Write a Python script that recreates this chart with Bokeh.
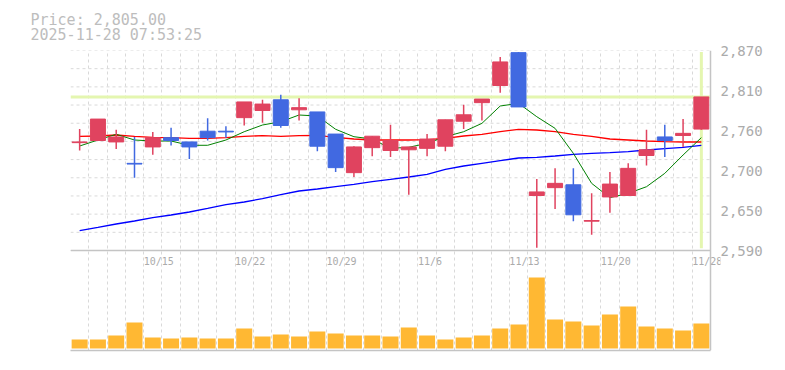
from bokeh.plotting import figure
from bokeh.models import ColumnDataSource, FixedTicker, Range1d, Span, Label, Title
from bokeh.embed import file_html
from bokeh.resources import INLINE

# ---- data ----
dates = ["10/8", "10/9", "10/10", "10/14", "10/15", "10/16", "10/17", "10/20", "10/21",
         "10/22", "10/23", "10/24", "10/27", "10/28", "10/29", "10/30", "10/31", "11/4",
         "11/5", "11/6", "11/7", "11/10", "11/11", "11/12", "11/13", "11/14", "11/17",
         "11/18", "11/19", "11/20", "11/21", "11/25", "11/26", "11/27", "11/28"]
opens = [2741, 2744, 2742, 2712, 2735, 2748, 2742, 2757, 2757, 2776, 2786, 2801, 2787,
         2784, 2753, 2699, 2734, 2730, 2731, 2733, 2736, 2771, 2797, 2821, 2867, 2667,
         2678, 2682, 2631, 2665, 2667, 2723, 2749, 2751, 2760]
highs = [2760, 2774, 2759, 2749, 2756, 2762, 2742, 2775, 2764, 2798, 2801, 2808, 2803,
         2784, 2753, 2736, 2750, 2766, 2735, 2753, 2773, 2794, 2802, 2861, 2868, 2690,
         2705, 2705, 2670, 2700, 2712, 2759, 2766, 2774, 2805]
lows = [2730, 2744, 2732, 2692, 2724, 2737, 2718, 2744, 2748, 2765, 2769, 2762, 2772,
        2729, 2700, 2693, 2722, 2721, 2668, 2722, 2729, 2760, 2772, 2811, 2791, 2594,
        2648, 2631, 2612, 2643, 2667, 2709, 2721, 2735, 2759]
closes = [2742, 2774, 2749, 2711, 2748, 2744, 2735, 2748, 2756, 2798, 2795, 2765, 2790,
          2736, 2706, 2735, 2750, 2744, 2735, 2746, 2773, 2780, 2802, 2854, 2791, 2672,
          2684, 2640, 2632, 2683, 2705, 2731, 2744, 2754, 2805]
ma5 = [2736.3, 2744.7, 2752.7, 2744.7, 2743.3, 2743.3, 2737.3, 2737.3, 2744.7, 2756.3,
       2765.7, 2770.3, 2779.7, 2778.3, 2759.7, 2749.3, 2746.1, 2733.0, 2734.5, 2740.0,
       2749.3, 2756.3, 2768.0, 2792.3, 2796.0, 2777.3, 2761.0, 2726.0, 2684.0, 2664.0,
       2670.0, 2679.3, 2698.0, 2723.7, 2748.0]
ma25 = [2749.8, 2750.3, 2751.7, 2749.8, 2748.4, 2748.0, 2747.1, 2747.1, 2748.0, 2749.8,
        2750.8, 2749.8, 2750.8, 2751.2, 2748.4, 2746.1, 2744.7, 2744.7, 2744.7, 2745.2,
        2747.1, 2750.3, 2752.6, 2756.4, 2759.6, 2758.7, 2756.4, 2752.6, 2749.8, 2746.1,
        2744.7, 2743.3, 2742.4, 2741.9, 2741.9]
ma75 = [2617.8, 2622.4, 2627.1, 2631.3, 2636.0, 2639.7, 2643.9, 2649.0, 2654.2, 2657.9,
        2662.6, 2668.2, 2673.3, 2676.1, 2679.4, 2682.6, 2686.4, 2689.6, 2692.9, 2696.6,
        2703.6, 2708.3, 2712.0, 2715.8, 2719.5, 2720.4, 2722.3, 2724.6, 2726.0, 2727.0,
        2728.4, 2730.7, 2732.6, 2734.4, 2737.2]
volumes = [90000, 90000, 130000, 260000, 110000, 100000, 110000, 100000, 100000, 200000,
           120000, 140000, 120000, 170000, 150000, 130000, 130000, 120000, 210000, 130000,
           90000, 110000, 130000, 200000, 240000, 710000, 290000, 270000, 230000, 340000,
           420000, 220000, 200000, 180000, 250000]
label_dates = ["10/15", "10/22", "10/29", "11/6", "11/13", "11/20", "11/28"]
price_ticks = [2590, 2646, 2702, 2758, 2814, 2870]
price_tick_labels = ["2,590", "2,650", "2,700", "2,760", "2,810", "2,870"]
last_price = 2805
title_line1 = "Price: 2,805.00"
title_line2 = "2025-11-28 07:53:25"

UP = "#e0435f"
DOWN = "#4169e1"
FONT = "DejaVu Sans Mono"
GRID = "#d9d9d9"
BORDER = "#c4c4c4"
n = len(dates)
xs = list(range(n))
Y0, Y1 = 2450, 2870          # price range over the whole 300px frame
PX_X = n / 640.0             # data units per pixel, x (640px for the 35 days)
PX_Y = (Y1 - Y0) / 300.0     # data units per pixel, y
X0, XR = -0.5, n - 0.5       # left / right edge of the chart area
XPAD = 10 * PX_X             # room so the last date label is not cut off

src = ColumnDataSource(dict(
    x=xs,
    top=[max(o, c) for o, c in zip(opens, closes)],
    bottom=[min(o, c) for o, c in zip(opens, closes)],
    high=highs, low=lows,
    color=[UP if c >= o else DOWN for o, c in zip(opens, closes)],
    vol=volumes, ma5=ma5, ma25=ma25, ma75=ma75,
))

p = figure(width=777, height=362, output_backend="svg", toolbar_location=None,
           x_range=Range1d(X0, XR + XPAD), y_range=Range1d(Y0, Y1),
           y_axis_location="right",
           min_border_left=70, min_border_right=57, min_border_top=50, min_border_bottom=12)
p.outline_line_color = None
p.background_fill_color = "white"
p.border_fill_color = "white"

p.extra_y_ranges = {"vol": Range1d(-20000, 2980000)}

# header (two lines)
p.add_layout(Title(text=title_line1 + "\n" + title_line2, align="left", offset=-40,
                   standoff=13, text_font=FONT, text_font_size="15px",
                   text_font_style="normal", text_color="#bdbdbd",
                   text_line_height=0.86), "above")

# vertical grid at the day boundaries
p.xgrid.ticker = FixedTicker(ticks=[i - 0.5 for i in range(n + 1)])
p.xgrid.grid_line_color = GRID
p.xgrid.grid_line_dash = "3 3"
p.ygrid.visible = False

# horizontal grid of the price panel (limited to the chart area)
grid_levels = [2590 + 280 / 11 * k for k in range(12)]
p.segment(x0=[X0] * len(grid_levels), y0=grid_levels, x1=[XR] * len(grid_levels),
          y1=grid_levels, line_color=GRID, line_dash="3 3", line_width=1)

# right price axis
ya = p.yaxis[0]
ya.ticker = FixedTicker(ticks=price_ticks)
ya.major_label_overrides = {t: s for t, s in zip(price_ticks, price_tick_labels)}
ya.major_tick_line_color = None
ya.major_tick_out = 0
ya.major_tick_in = 0
ya.minor_tick_line_color = None
ya.axis_line_color = None
ya.major_label_standoff = 0
ya.major_label_text_font = FONT
ya.major_label_text_font_size = "14px"
ya.major_label_text_color = "#ababab"

xa = p.xaxis[0]
xa.ticker = FixedTicker(ticks=[])
xa.bounds = (X0, XR)
xa.major_tick_line_color = None
xa.minor_tick_line_color = None
xa.axis_line_color = BORDER
xa.axis_line_width = 1.5
xa.major_label_text_font_size = "0px"

# right border and separator between price and volume panels
p.add_layout(Span(location=XR, dimension="height", line_color=BORDER, line_width=1.5))
p.segment(x0=[X0], y0=[price_ticks[0]], x1=[XR], y1=[price_ticks[0]],
          line_color=BORDER, line_width=1.5)

# current price lines
p.segment(x0=[X0], y0=[last_price], x1=[XR], y1=[last_price],
          line_color="#e4f6b0", line_width=3)
p.segment(x0=[n - 1], y0=[2593], x1=[n - 1], y1=[2868],
          line_color="#e4f6b0", line_width=3)

# moving averages
p.line("x", "ma75", source=src, line_color="#0000ff", line_width=1.3)
p.line("x", "ma25", source=src, line_color="#ff0000", line_width=1.3)
p.line("x", "ma5", source=src, line_color="#008000", line_width=1)

# candles
p.segment(x0="x", y0="high", x1="x", y1="low", source=src, line_color="color",
          line_width=1.5)
p.vbar(x="x", top="top", bottom="bottom", width=0.82, source=src, fill_color="color",
       line_color="color", line_width=1)

# volume
p.vbar(x="x", top="vol", bottom=0, width=0.875, source=src, y_range_name="vol",
       fill_color="#ffb833", line_color=None)

# date labels (left-aligned at the day's left boundary, just under the price panel)
for d in label_dates:
    p.add_layout(Label(x=dates.index(d) - 0.5, y=2590 - 11 * PX_Y, text=d,
                       text_align="left", text_baseline="middle", text_font=FONT,
                       text_font_size="10px", text_color="#ababab"))

open("out.html", "w").write(file_html(p, INLINE))
